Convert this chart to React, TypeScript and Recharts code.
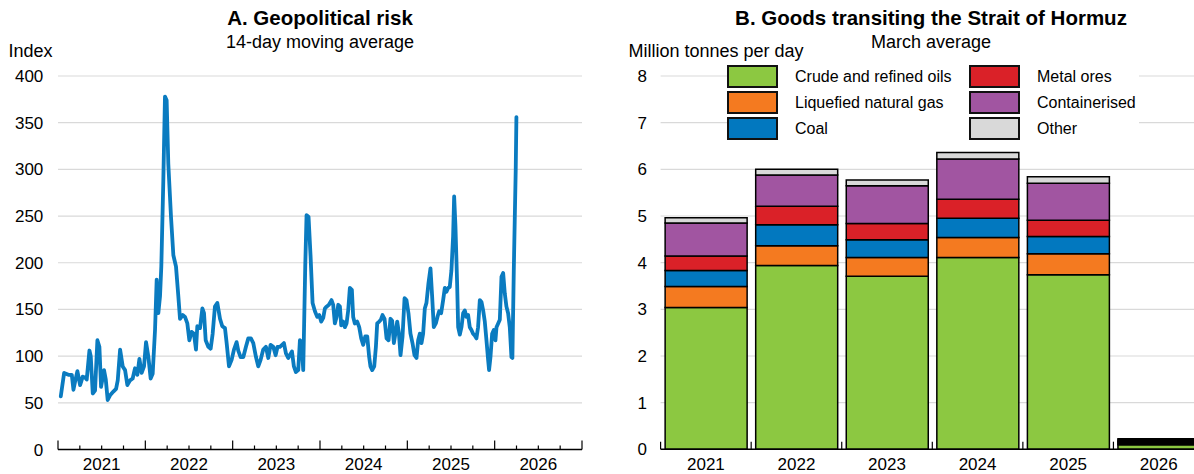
import React from 'react';
import { LineChart, Line, BarChart, Bar, XAxis, YAxis, CartesianGrid, Legend } from 'recharts';

const FONT = '"Liberation Sans", Arial, Helvetica, sans-serif';

// ---------- Panel A: Geopolitical risk (14-day moving average) ----------
const riskDates = [
  2021.032, 2021.070, 2021.119, 2021.158, 2021.177, 2021.196, 2021.222, 2021.253, 2021.283, 2021.310,
  2021.329, 2021.360, 2021.375, 2021.398, 2021.424, 2021.451, 2021.474, 2021.493, 2021.527, 2021.547,
  2021.569, 2021.596, 2021.634, 2021.665, 2021.684, 2021.711, 2021.741, 2021.768, 2021.794, 2021.825,
  2021.855, 2021.882, 2021.909, 2021.932, 2021.958, 2021.985, 2022.008, 2022.035, 2022.061, 2022.084,
  2022.111, 2022.130, 2022.149, 2022.168, 2022.183, 2022.206, 2022.225, 2022.244, 2022.263, 2022.294,
  2022.321, 2022.351, 2022.378, 2022.397, 2022.428, 2022.454, 2022.481, 2022.504, 2022.531, 2022.557,
  2022.580, 2022.595, 2022.626, 2022.653, 2022.672, 2022.691, 2022.721, 2022.748, 2022.771, 2022.797,
  2022.824, 2022.855, 2022.881, 2022.912, 2022.931, 2022.958, 2022.988, 2023.015, 2023.045, 2023.064,
  2023.091, 2023.122, 2023.152, 2023.179, 2023.209, 2023.236, 2023.267, 2023.293, 2023.320, 2023.350,
  2023.381, 2023.408, 2023.434, 2023.465, 2023.492, 2023.514, 2023.541, 2023.587, 2023.610, 2023.636,
  2023.679, 2023.701, 2023.724, 2023.751, 2023.770, 2023.789, 2023.808, 2023.831, 2023.846, 2023.869,
  2023.892, 2023.915, 2023.942, 2023.968, 2023.991, 2024.014, 2024.037, 2024.056, 2024.075, 2024.102,
  2024.132, 2024.151, 2024.170, 2024.190, 2024.209, 2024.228, 2024.243, 2024.266, 2024.285, 2024.304,
  2024.323, 2024.342, 2024.365, 2024.380, 2024.399, 2024.426, 2024.449, 2024.472, 2024.495, 2024.518,
  2024.541, 2024.563, 2024.578, 2024.598, 2024.621, 2024.640, 2024.655, 2024.678, 2024.697, 2024.716,
  2024.739, 2024.762, 2024.785, 2024.807, 2024.826, 2024.846, 2024.865, 2024.884, 2024.903, 2024.922,
  2024.945, 2024.968, 2024.990, 2025.013, 2025.036, 2025.059, 2025.082, 2025.105, 2025.124, 2025.143,
  2025.162, 2025.181, 2025.200, 2025.219, 2025.242, 2025.265, 2025.284, 2025.303, 2025.326, 2025.345,
  2025.364, 2025.387, 2025.410, 2025.429, 2025.448, 2025.467, 2025.486, 2025.505, 2025.524, 2025.536,
  2025.551, 2025.570, 2025.582, 2025.601, 2025.620, 2025.639, 2025.658, 2025.677, 2025.696, 2025.715,
  2025.734, 2025.753, 2025.772, 2025.791, 2025.810, 2025.830, 2025.849, 2025.868, 2025.887, 2025.906,
  2025.925, 2025.936, 2025.952, 2025.971, 2025.990, 2026.009, 2026.021, 2026.040, 2026.059, 2026.078,
  2026.097, 2026.116, 2026.135, 2026.154, 2026.173, 2026.192, 2026.203, 2026.219, 2026.230, 2026.241,
  2026.249,
];
const riskValues = [
  57, 82, 80, 80, 64, 73, 84, 69, 78, 77,
  75, 106, 100, 60, 63, 117, 110, 67, 85, 75,
  53, 58, 62, 65, 74, 107, 89, 85, 69, 74,
  76, 87, 80, 97, 82, 89, 115, 99, 76, 81,
  128, 182, 146, 164, 196, 288, 378, 374, 306, 249,
  208, 196, 164, 140, 144, 142, 135, 117, 126, 124,
  107, 132, 130, 151, 146, 117, 110, 108, 124, 153,
  157, 140, 132, 130, 114, 89, 96, 107, 115, 106,
  99, 99, 110, 119, 119, 114, 99, 89, 96, 107,
  110, 98, 112, 110, 101, 110, 110, 114, 103, 98,
  105, 89, 83, 85, 117, 115, 85, 196, 251, 249,
  207, 157, 148, 142, 144, 137, 141, 151, 153, 155,
  160, 155, 135, 142, 155, 153, 133, 137, 131, 135,
  149, 173, 171, 142, 135, 137, 131, 119, 112, 121,
  121, 99, 89, 85, 89, 110, 135, 137, 139, 144,
  140, 119, 117, 140, 138, 114, 125, 137, 125, 101,
  121, 162, 160, 146, 124, 114, 101, 98, 117, 124,
  114, 124, 151, 157, 178, 194, 164, 131, 135, 142,
  148, 146, 160, 173, 169, 173, 174, 192, 228, 271,
  239, 178, 131, 123, 131, 146, 149, 142, 144, 131,
  128, 124, 122, 119, 131, 160, 158, 149, 137, 117,
  96, 85, 99, 124, 128, 117, 131, 135, 139, 185,
  189, 167, 153, 146, 131, 99, 98, 192, 246, 299,
  356,
];
const riskYTicks = [0, 50, 100, 150, 200, 250, 300, 350, 400];
const riskXTicks = [
  2021, 2021.25, 2021.5, 2021.75, 2022, 2022.25, 2022.5, 2022.75,
  2023, 2023.25, 2023.5, 2023.75, 2024, 2024.25, 2024.5, 2024.75,
  2025, 2025.25, 2025.5, 2025.75, 2026, 2026.25, 2026.5, 2026.75, 2027,
];

// ---------- Panel B: Goods transiting the Strait of Hormuz ----------
const years = ['2021', '2022', '2023', '2024', '2025', '2026'];
const crudeOils = [3.04, 3.94, 3.71, 4.11, 3.74, 0.1];
const lng = [0.45, 0.42, 0.4, 0.43, 0.45, 0.025];
const coal = [0.34, 0.45, 0.38, 0.41, 0.37, 0.025];
const metalOres = [0.31, 0.4, 0.35, 0.41, 0.35, 0.025];
const containerised = [0.71, 0.67, 0.81, 0.86, 0.79, 0.025];
const otherGoods = [0.11, 0.12, 0.12, 0.14, 0.14, 0.025];
const goodsYTicks = [0, 1, 2, 3, 4, 5, 6, 7, 8];

const series = [
  { key: 'crude', name: 'Crude and refined oils', color: '#8cc841', values: crudeOils },
  { key: 'lng', name: 'Liquefied natural gas', color: '#f47a20', values: lng },
  { key: 'coal', name: 'Coal', color: '#0278bf', values: coal },
  { key: 'metal', name: 'Metal ores', color: '#da2128', values: metalOres },
  { key: 'container', name: 'Containerised', color: '#a155a1', values: containerised },
  { key: 'other', name: 'Other', color: '#d9d9d9', values: otherGoods },
];

const riskData = riskDates.map((t, i) => ({ t, v: riskValues[i] }));
const goodsData = years.map((year, i) => {
  const row: Record<string, any> = { year };
  series.forEach((s) => { row[s.key] = s.values[i]; });
  return row;
});

// layout constants
const A_W = 600;
const A_LEFT = 58;
const A_RIGHT = 18;
const B_W = 604;
const B_LEFT = 60.6;
const BAND = (B_W - B_LEFT) / years.length;
const GRID = '#d9d9d9';

const RiskXTick = (props: any) => {
  const { x, y, payload } = props;
  const v = payload.value as number;
  const isYear = Math.abs(v - Math.round(v)) < 1e-6;
  const isMid = Math.abs(v - Math.floor(v) - 0.5) < 1e-6;
  return (
    <g>
      <line x1={x} x2={x} y1={y} y2={y - (isYear ? 9 : 4)} stroke="#000" strokeWidth={1.2} />
      {isMid && Math.floor(v) < 2027 && (
        <text x={x} y={y + 20.5} textAnchor="middle" fontSize={17} fontFamily={FONT} fill="#000">
          {Math.floor(v)}
        </text>
      )}
    </g>
  );
};

const GoodsXTick = (props: any) => {
  const { x, y, payload } = props;
  return (
    <g>
      <line x1={x - BAND / 2} x2={x - BAND / 2} y1={y} y2={y - 7.6} stroke="#000" strokeWidth={1.2} />
      <text x={x} y={y + 20.5} textAnchor="middle" fontSize={17} fontFamily={FONT} fill="#000">
        {payload.value}
      </text>
    </g>
  );
};

const GoodsLegend = () => {
  const col1 = series.slice(0, 3);
  const col2 = series.slice(3);
  const renderItem = (s: any, row: number, colLeft: number) => (
    <div key={s.key}>
      <div
        style={{
          position: 'absolute', left: colLeft, top: 1 + row * 26, width: 51, height: 23,
          boxSizing: 'border-box', border: '2px solid #111', background: s.color,
        }}
      />
      <div
        style={{
          position: 'absolute', left: colLeft + 68, top: 1 + row * 26, height: 23, lineHeight: '23px',
          fontSize: 16, fontFamily: FONT, color: '#000', whiteSpace: 'nowrap',
        }}
      >
        {s.name}
      </div>
    </div>
  );
  return (
    <div style={{ position: 'relative', width: 412, height: 78, background: '#fff' }}>
      {col1.map((s, i) => renderItem(s, i, 0))}
      {col2.map((s, i) => renderItem(s, i, 242))}
    </div>
  );
};

export default function App() {
  return (
    <div style={{ position: 'absolute', left: 0, top: 0, width: 1194, height: 474, overflow: 'hidden', background: '#fff', fontFamily: FONT }}>
      <div style={{ position: 'absolute', left: 0, top: 0 }}>
        <LineChart width={A_W} height={474} data={riskData} margin={{ top: 76, right: A_RIGHT, bottom: 0, left: 0 }}>
          <CartesianGrid horizontal vertical={false} stroke={GRID} strokeWidth={1.2} />
          <XAxis
            dataKey="t"
            type="number"
            domain={[2021, 2027]}
            ticks={riskXTicks}
            interval={0}
            height={24.5}
            tickSize={0}
            tickMargin={0}
            tickLine={false}
            axisLine={{ stroke: '#000', strokeWidth: 1.4 }}
            tick={<RiskXTick />}
          />
          <YAxis
            domain={[0, 400]}
            ticks={riskYTicks}
            interval={0}
            width={A_LEFT}
            axisLine={false}
            tickLine={false}
            tickSize={0}
            tickMargin={14.7}
            tick={{ fontSize: 17, fill: '#000', fontFamily: FONT }}
          />
          <Line
            dataKey="v"
            type="linear"
            stroke="#0a7bc0"
            strokeWidth={3.8}
            strokeLinejoin="round"
            strokeLinecap="round"
            dot={false}
            activeDot={false}
            isAnimationActive={false}
          />
        </LineChart>
      </div>

      <div style={{ position: 'absolute', left: 600, top: 0 }}>
        <BarChart width={B_W} height={474} data={goodsData} margin={{ top: 76, right: 0, bottom: 0, left: 0 }} barCategoryGap="5%">
          <CartesianGrid horizontal vertical={false} stroke={GRID} strokeWidth={1.2} />
          <XAxis
            dataKey="year"
            interval={0}
            height={24.7}
            tickSize={0}
            tickMargin={0}
            tickLine={false}
            axisLine={{ stroke: '#000', strokeWidth: 1.4 }}
            tick={<GoodsXTick />}
          />
          <YAxis
            domain={[0, 8]}
            ticks={goodsYTicks}
            interval={0}
            width={B_LEFT}
            axisLine={false}
            tickLine={false}
            tickSize={0}
            tickMargin={13.6}
            tick={{ fontSize: 17, fill: '#000', fontFamily: FONT }}
          />
          <Legend
            layout="vertical"
            align="center"
            verticalAlign="middle"
            content={<GoodsLegend />}
            wrapperStyle={{ left: 127, top: 64, width: 412, height: 78 }}
          />
          {series.map((s) => (
            <Bar
              key={s.key}
              dataKey={s.key}
              name={s.name}
              stackId="goods"
              fill={s.color}
              stroke="#000"
              strokeWidth={1.5}
              isAnimationActive={false}
            />
          ))}
        </BarChart>
      </div>

      <svg width={1194} height={474} style={{ position: 'absolute', left: 0, top: 0, pointerEvents: 'none' }}>
        <g fontFamily={FONT} fill="#000">
          <text x={320} y={25} textAnchor="middle" fontSize={20.5} fontWeight="bold">A. Geopolitical risk</text>
          <text x={320} y={48} textAnchor="middle" fontSize={18}>14-day moving average</text>
          <text x={8.5} y={57} fontSize={18}>Index</text>
          <text x={931} y={25} textAnchor="middle" fontSize={20.5} fontWeight="bold">B. Goods transiting the Strait of Hormuz</text>
          <text x={931} y={48} textAnchor="middle" fontSize={18}>March average</text>
          <text x={628.5} y={57} fontSize={18}>Million tonnes per day</text>
        </g>
      </svg>
    </div>
  );
}
